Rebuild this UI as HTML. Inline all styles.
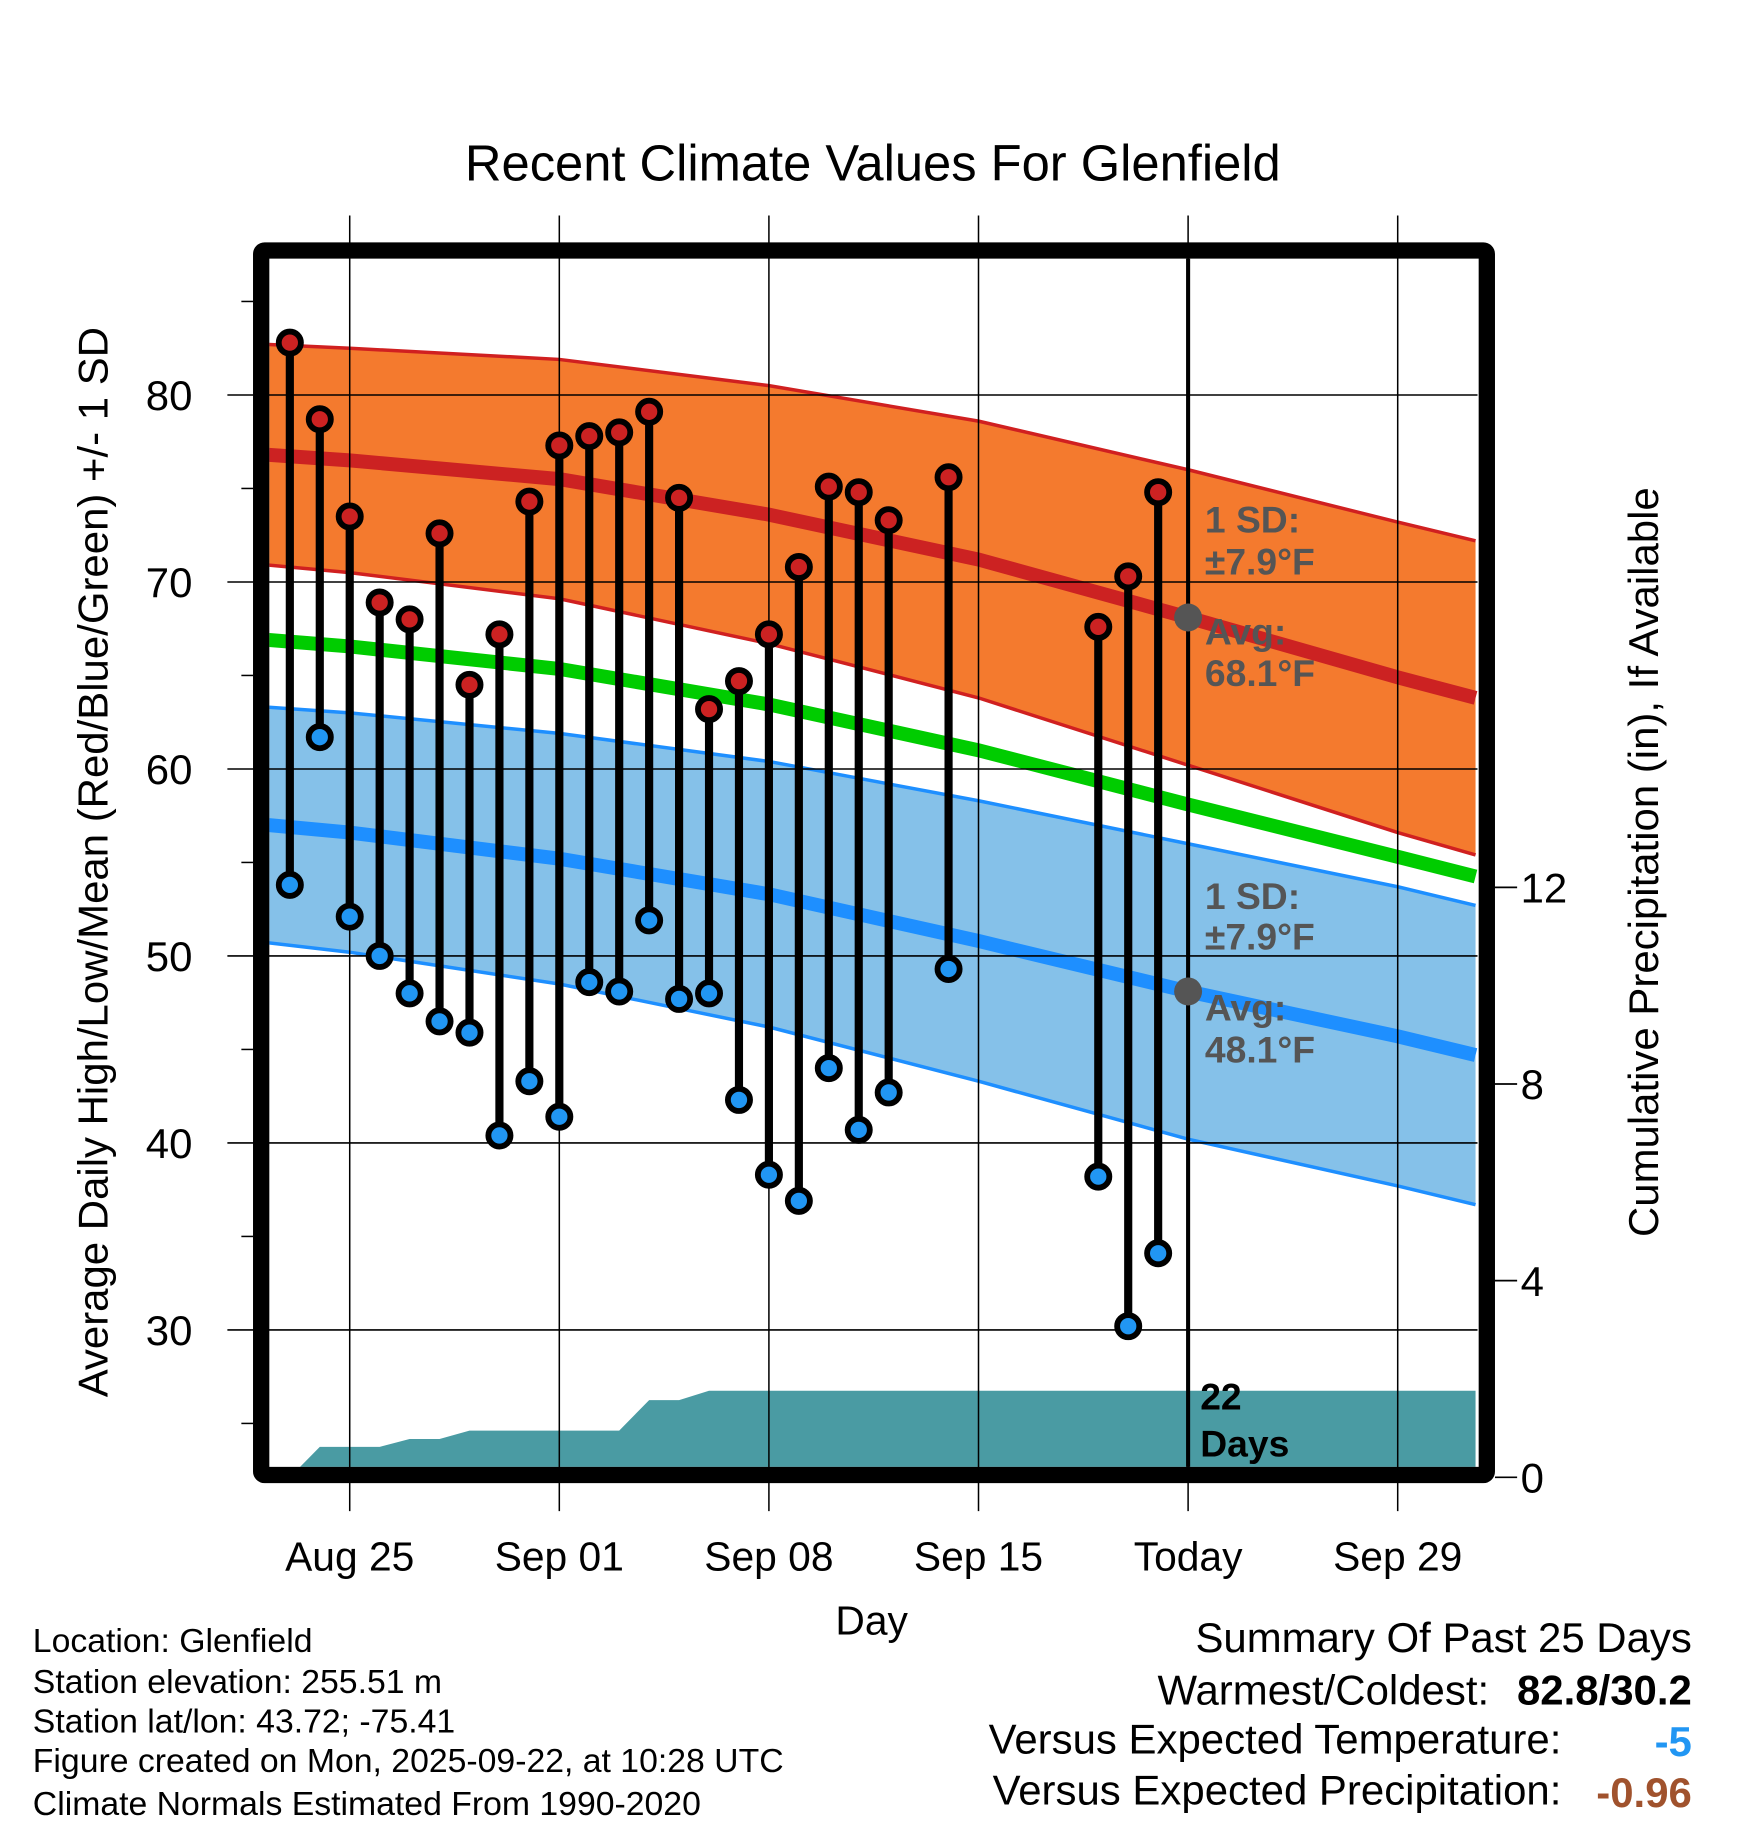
<!DOCTYPE html>
<html><head><meta charset="utf-8"><style>
html,body{margin:0;padding:0;background:#fff}
svg{display:block}
text{font-family:"Liberation Sans",Arial,sans-serif}
</style></head><body>
<svg id="chart" width="1748" height="1828" viewBox="0 0 1500 1569" xmlns="http://www.w3.org/2000/svg"></svg>
<script>
// ---- data ----
const obsDays = [-2,-1,0,1,2,3,4,5,6,7,8,9,10,11,12,13,14,15,16,17,18,20,25,26,27];
const highs = [82.8,78.7,73.5,68.9,68.0,72.6,64.5,67.2,74.3,77.3,77.8,78.0,79.1,74.5,63.2,64.7,67.2,70.8,75.1,74.8,73.3,75.6,67.6,70.3,74.8];
const lows  = [53.8,61.7,52.1,50.0,48.0,46.5,45.9,40.4,43.3,41.4,48.6,48.1,51.9,47.7,48.0,42.3,38.3,36.9,44.0,40.7,42.7,49.3,38.2,30.2,34.1];
const normDays = [-2.7,0,7,14,21,28,35,37.6];
const meanHigh = [76.8,76.5,75.5,73.6,71.2,68.1,64.9,63.8];
const sdHigh   = [5.9,6.0,6.4,6.9,7.4,7.9,8.3,8.4];
const meanLow  = [57.0,56.6,55.2,53.3,50.8,48.1,45.7,44.7];
const sdLow    = [6.3,6.4,6.7,7.1,7.5,7.9,8.0,8.0];
const precipDays = [-2,-1,0,1,2,3,4,5,6,7,8,9,10,11,12,37.6];
const precip     = [0,0.62,0.62,0.62,0.78,0.78,0.95,0.95,0.95,0.95,0.95,0.95,1.57,1.57,1.76,1.76];
const xTickDays = [0,7,14,21,28,35];
const xTickLabels = ["Aug 25","Sep 01","Sep 08","Sep 15","Today","Sep 29"];
const yTicks = [30,40,50,60,70,80];
const pTicks = [0,4,8,12];

// ---- scales ----
const X0=231,X1=1268,Y0=222,Y1=1259;
const x = d => 300 + d*25.7;
const y = v => 339 + (80-v)*16.05;
const yp = p => 1268 - p*42.2;

const svg=document.getElementById('chart');
const NS='http://www.w3.org/2000/svg';
function mk(tag,attrs,parent){const e=document.createElementNS(NS,tag);for(const k in attrs)e.setAttribute(k,attrs[k]);(parent||svg).appendChild(e);return e;}
function txt(s,attrs,parent){const e=mk('text',attrs,parent);e.textContent=s;return e;}

const defs=mk('defs',{});
const cp=mk('clipPath',{id:'plotclip'},defs);
mk('rect',{x:X0,y:Y0,width:X1-X0,height:Y1-Y0},cp);
const plot=mk('g',{'clip-path':'url(#plotclip)'});



function band(mean,sd,fill,edge,name){
  let up=normDays.map((d,i)=>x(d)+','+y(mean[i]+sd[i]));
  let lo=normDays.map((d,i)=>x(d)+','+y(mean[i]-sd[i])).reverse();
  const p=mk('polygon',{points:up.concat(lo).join(' '),fill:fill},plot);
  
  
  const a=mk('polyline',{points:normDays.map((d,i)=>x(d)+','+y(mean[i]+sd[i])).join(' '),fill:'none',stroke:edge,'stroke-width':3},plot);
  
  
  const b=mk('polyline',{points:normDays.map((d,i)=>x(d)+','+y(mean[i]-sd[i])).join(' '),fill:'none',stroke:edge,'stroke-width':3},plot);
  
  
}
band(meanHigh,sdHigh,'#f47a2e','#d02020','high');
band(meanLow,sdLow,'#85c1e9','#1e8fff','low');
const ml=mk('polyline',{points:normDays.map((d,i)=>x(d)+','+y(meanLow[i])).join(' '),fill:'none',stroke:'#1e8fff','stroke-width':12},plot);


const mh=mk('polyline',{points:normDays.map((d,i)=>x(d)+','+y(meanHigh[i])).join(' '),fill:'none',stroke:'#cc2222','stroke-width':12},plot);


const mg=mk('polyline',{points:normDays.map((d,i)=>x(d)+','+y((meanHigh[i]+meanLow[i])/2)).join(' '),fill:'none',stroke:'#00cc00','stroke-width':12},plot);



yTicks.forEach(v=>{
  const l=mk('line',{x1:195,x2:X1,y1:y(v),y2:y(v),stroke:'#000','stroke-width':1.3});
  
  
  const t=txt(String(v),{x:165,y:y(v)+13,'font-size':36,'text-anchor':'end'});
  
  
});
for(let v=25;v<=85;v+=10){
  const l=mk('line',{x1:207,x2:217,y1:y(v),y2:y(v),stroke:'#000','stroke-width':1.3});
  
  
}
xTickDays.forEach((d,i)=>{
  const l=mk('line',{x1:x(d),x2:x(d),y1:185,y2:1297,stroke:'#000','stroke-width':1.3});
  
  
  const t=txt(xTickLabels[i],{x:x(d),y:1348,'font-size':35,'text-anchor':'middle'});
  
  
});

let pp=[x(precipDays[0])+','+yp(0)];
precipDays.forEach((d,i)=>pp.push(x(d)+','+yp(precip[i])));
pp.push(x(precipDays[precipDays.length-1])+','+yp(0));
const pf=mk('polygon',{points:pp.join(' '),fill:'#4a9ba3'},plot);


pTicks.forEach(p=>{
  const l=mk('line',{x1:1283,x2:1302,y1:yp(p),y2:yp(p),stroke:'#000','stroke-width':1.5});
  
  
  const t=txt(String(p),{x:1305,y:yp(p)+13,'font-size':36});
  
  
});

const tl=mk('line',{x1:x(28),x2:x(28),y1:Y0,y2:Y1,stroke:'#000','stroke-width':3.5});



obsDays.forEach((d,i)=>{
  const s=mk('line',{x1:x(d),x2:x(d),y1:y(highs[i]),y2:y(lows[i]),stroke:'#000','stroke-width':7});
  
  
  const h=mk('circle',{cx:x(d),cy:y(highs[i]),r:9.5,fill:'#cc2222',stroke:'#000','stroke-width':5});
  
  
  const lo=mk('circle',{cx:x(d),cy:y(lows[i]),r:9.5,fill:'#2196f3',stroke:'#000','stroke-width':5});
  
  
});

[[meanHigh[5],'avg-high-marker'],[meanLow[5],'avg-low-marker']].forEach(a=>{
  const c=mk('circle',{cx:x(28),cy:y(a[0]),r:12,fill:'#555'});
  
  
});

const fr=mk('rect',{x:224,y:215,width:1052,height:1051,fill:'none',stroke:'#000','stroke-width':14,rx:3});


</script>
<script>
(function(){
const svg=document.getElementById('chart');
const NS='http://www.w3.org/2000/svg';
function t(s,a,name,bold,fill){const e=document.createElementNS(NS,'text');for(const k in a)e.setAttribute(k,a[k]);if(bold)e.setAttribute('font-weight','bold');if(fill)e.setAttribute('fill',fill);e.textContent=s;svg.appendChild(e);


return e;}
t('Recent Climate Values For Glenfield',{x:749,y:155,'font-size':43.5,'text-anchor':'middle'},'chart-title');
t('Day',{x:748,y:1403,'font-size':35,'text-anchor':'middle'},'x-axis-title');
t('Average Daily High/Low/Mean (Red/Blue/Green) +/- 1 SD',{x:0,y:0,'font-size':36,'text-anchor':'middle',transform:'translate(92,740) rotate(-90)'},'y-axis-title');
t('Cumulative Precipitation (in), If Available',{x:0,y:0,'font-size':36,'text-anchor':'middle',transform:'translate(1423,740) rotate(-90)'},'precip-axis-title');
const g='#555';
t('1 SD:',{x:1034,y:457,'font-size':32},'high-sd-label',true,g);
t('±7.9°F',{x:1034,y:493,'font-size':32},'high-sd-value',true,g);
t('Avg:',{x:1034,y:553,'font-size':32},'high-avg-label',true,g);
t('68.1°F',{x:1034,y:589,'font-size':32},'high-avg-value',true,g);
t('1 SD:',{x:1034,y:780,'font-size':32},'low-sd-label',true,g);
t('±7.9°F',{x:1034,y:815,'font-size':32},'low-sd-value',true,g);
t('Avg:',{x:1034,y:876,'font-size':32},'low-avg-label',true,g);
t('48.1°F',{x:1034,y:912,'font-size':32},'low-avg-value',true,g);
t('22',{x:1030,y:1210,'font-size':32},'days-count',true,'#000');
t('Days',{x:1030,y:1250,'font-size':32},'days-label',true,'#000');
['Location: Glenfield','Station elevation: 255.51 m','Station lat/lon: 43.72; -75.41','Figure created on Mon, 2025-09-22, at 10:28 UTC','Climate Normals Estimated From 1990-2020'].forEach((s,i)=>{
  t(s,{x:28,y:[1418,1453,1487,1521,1558][i],'font-size':29},'station-info-line');
});
t('Summary Of Past 25 Days',{x:1452,y:1418,'font-size':36,'text-anchor':'end'},'summary-title');
t('Warmest/Coldest:',{x:1278,y:1463,'font-size':36,'text-anchor':'end'},'warmest-coldest-label');
t('82.8/30.2',{x:1452,y:1463,'font-size':36,'text-anchor':'end'},'warmest-coldest-value',true,'#000');
t('Versus Expected Temperature:',{x:1340,y:1505,'font-size':36,'text-anchor':'end'},'temp-departure-label');
t('-5',{x:1452,y:1507,'font-size':36,'text-anchor':'end'},'temp-departure-value',true,'#2196f3');
t('Versus Expected Precipitation:',{x:1340,y:1549,'font-size':36,'text-anchor':'end'},'precip-departure-label');
t('-0.96',{x:1452,y:1551,'font-size':36,'text-anchor':'end'},'precip-departure-value',true,'#a0522d');
})();
</script>
</body></html>
